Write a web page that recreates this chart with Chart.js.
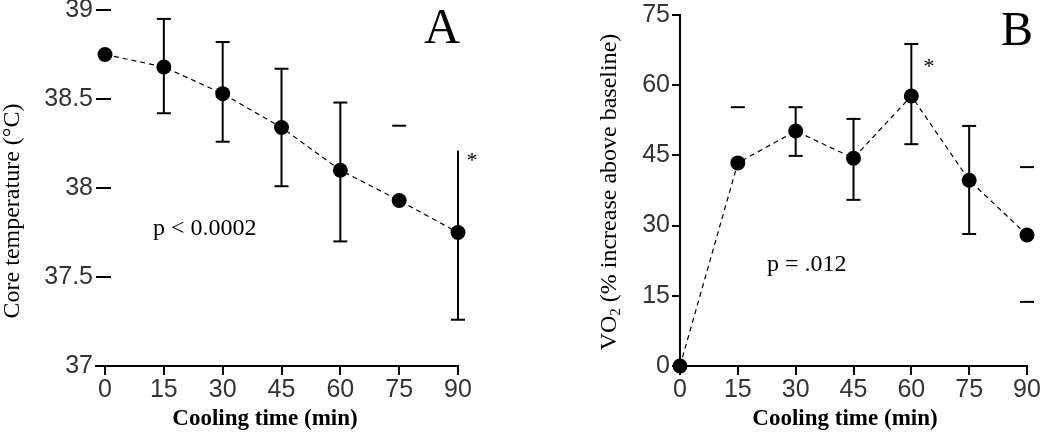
<!DOCTYPE html>
<html><head><meta charset="utf-8">
<script src="https://cdn.jsdelivr.net/npm/chart.js@4"></script>
<style>
html,body{margin:0;padding:0;background:#fff;overflow:hidden}
#a{position:absolute;left:0;top:0}
#b{position:absolute;left:520px;top:0}
</style>
</head><body>
<canvas id="a" width="520" height="432"></canvas>
<canvas id="b" width="530" height="432"></canvas>
<script>
// ---- data ----
const minutes = [0, 15, 30, 45, 60, 75, 90];
const xTickValues = [0, 15, 30, 45, 60, 75, 90];

// Panel A: core temperature (°C)
const tempMean  = [38.75, 38.68, 38.53, 38.34, 38.10, 37.93, 37.75];
const tempUpper = [null, 38.95, 38.82, 38.67, 38.48, 38.35, 38.21];
const tempLower = [null, 38.42, 38.26, 38.01, 37.70, null, 37.26];
const tempStem   = [false, true, true, true, true, false, true];
const tempCapUp  = [false, true, true, true, true, true, false];
const tempCapLow = [false, true, true, true, true, false, true];
const tempTicks = [37, 37.5, 38, 38.5, 39];

// Panel B: VO2 (% increase above baseline)
const vo2Mean  = [0, 43.4, 50.2, 44.4, 57.7, 39.7, 28.0];
const vo2Upper = [null, 55.3, 55.3, 52.8, 68.8, 51.3, 42.5];
const vo2Lower = [null, null, 44.9, 35.5, 47.4, 28.2, 13.7];
const vo2Stem   = [false, false, true, true, true, true, false];
const vo2CapUp  = [false, true, true, true, true, true, true];
const vo2CapLow = [false, false, true, true, true, true, true];
const vo2Ticks = [0, 15, 30, 45, 60, 75];

// ---- plugins ----
function makeErr(d) {
  return {
    id: 'errbars',
    beforeDatasetsDraw(chart) {
      const xs = chart.scales.x, ys = chart.scales.y, ctx = chart.ctx;
      ctx.save();
      ctx.strokeStyle = '#000'; ctx.lineWidth = 2; ctx.lineCap = 'butt';
      const hw = 7;
      d.x.forEach((xv, i) => {
        const px = xs.getPixelForValue(xv);
        const pm = ys.getPixelForValue(d.mean[i]);
        const up = d.upper[i] == null ? null : ys.getPixelForValue(d.upper[i]);
        const lo = d.lower[i] == null ? null : ys.getPixelForValue(d.lower[i]);
        if (d.stem[i]) {
          ctx.beginPath(); ctx.moveTo(px, up ?? pm); ctx.lineTo(px, lo ?? pm); ctx.stroke();
        }
        if (up != null && d.capUp[i]) {
          ctx.beginPath(); ctx.moveTo(px - hw, up); ctx.lineTo(px + hw, up); ctx.stroke();
        }
        if (lo != null && d.capLow[i]) {
          ctx.beginPath(); ctx.moveTo(px - hw, lo); ctx.lineTo(px + hw, lo); ctx.stroke();
        }
      });
      ctx.restore();
    }
  };
}
function makeText(items) {
  return {
    id: 'texts',
    afterDraw(chart) {
      const ctx = chart.ctx;
      items.forEach(t => {
        ctx.save();
        ctx.fillStyle = '#000';
        ctx.translate(t.x, t.y);
        if (t.rot) ctx.rotate(t.rot);
        ctx.textBaseline = t.base || 'alphabetic';
        if (t.parts) {
          let total = 0;
          t.parts.forEach(p => { ctx.font = p.font; total += ctx.measureText(p.text).width; });
          let cx = -total / 2;
          ctx.textAlign = 'left';
          t.parts.forEach(p => {
            ctx.font = p.font;
            ctx.fillText(p.text, cx, p.dy || 0);
            cx += ctx.measureText(p.text).width;
          });
        } else {
          ctx.font = t.font;
          ctx.textAlign = t.align || 'center';
          ctx.fillText(t.text, 0, 0);
        }
        ctx.restore();
      });
    }
  };
}

const tickFont = {family: '"Liberation Sans", Arial, sans-serif', size: 25, lineHeight: 1};
const serif = '"Liberation Serif", "Times New Roman", serif';
const plainLabel = v => String(v);

function xScale(min) {
  return {
    type: 'linear', min: min, max: 90,
    afterBuildTicks: s => { s.ticks = xTickValues.map(v => ({value: v})); },
    grid: {drawOnChartArea: false, drawTicks: true, tickLength: 9, color: '#000', lineWidth: 2},
    border: {display: true, color: '#000', width: 2},
    ticks: {font: tickFont, color: '#333', padding: 3, maxRotation: 0, autoSkip: false, callback: plainLabel},
    afterFit: s => { s.height = 66; s.paddingLeft = 0; s.paddingRight = 0; }
  };
}

function lineDataset(y) {
  return {
    data: minutes.map((m, i) => ({x: m, y: y[i]})),
    borderColor: '#000', borderWidth: 1.2, borderDash: [5, 4],
    pointRadius: 7.5, pointBackgroundColor: '#000', pointBorderColor: '#000', pointBorderWidth: 0,
    tension: 0, clip: false
  };
}

new Chart(document.getElementById('a'), {
  type: 'line',
  data: {datasets: [lineDataset(tempMean)]},
  options: {
    responsive: false, animation: false,
    layout: {padding: {left: 0, top: 10, right: 62, bottom: 0}},
    plugins: {legend: {display: false}, tooltip: {enabled: false}},
    scales: {
      x: xScale(-2.3),
      y: {
        type: 'linear', min: 37, max: 39,
        afterBuildTicks: s => { s.ticks = tempTicks.map(v => ({value: v})); },
        grid: {drawOnChartArea: false, drawTicks: true, tickLength: -15, color: '#000', lineWidth: 2},
        border: {display: false},
        ticks: {font: tickFont, color: '#333', padding: 18, callback: plainLabel},
        afterFit: s => { s.width = 96; s.paddingTop = 0; s.paddingBottom = 0; }
      }
    }
  },
  plugins: [
    makeErr({x: minutes, mean: tempMean, upper: tempUpper, lower: tempLower, stem: tempStem, capUp: tempCapUp, capLow: tempCapLow}),
    makeText([
      {text: 'A', x: 442, y: 43, font: '50px ' + serif},
      {text: 'p < 0.0002', x: 153, y: 235, font: '24px ' + serif, align: 'left'},
      {text: '*', x: 472, y: 167, font: '22px ' + serif},
      {text: 'Core temperature (°C)', x: 13, y: 211, rot: -Math.PI / 2, base: 'middle', font: '24px ' + serif},
      {text: 'Cooling time (min)', x: 265, y: 419, base: 'middle', font: 'bold 23px ' + serif}
    ])
  ]
});

new Chart(document.getElementById('b'), {
  type: 'line',
  data: {datasets: [lineDataset(vo2Mean)]},
  options: {
    responsive: false, animation: false,
    layout: {padding: {left: 0, top: 15, right: 23, bottom: 0}},
    plugins: {legend: {display: false}, tooltip: {enabled: false}},
    scales: {
      x: xScale(0),
      y: {
        type: 'linear', min: 0, max: 75,
        afterBuildTicks: s => { s.ticks = vo2Ticks.map(v => ({value: v})); },
        grid: {drawOnChartArea: false, drawTicks: true, tickLength: 8, color: '#000', lineWidth: 2},
        border: {display: true, color: '#000', width: 2},
        ticks: {font: tickFont, color: '#333', padding: 2, callback: plainLabel},
        afterFit: s => { s.width = 160; s.paddingTop = 0; s.paddingBottom = 0; }
      }
    }
  },
  plugins: [
    makeErr({x: minutes, mean: vo2Mean, upper: vo2Upper, lower: vo2Lower, stem: vo2Stem, capUp: vo2CapUp, capLow: vo2CapLow}),
    makeText([
      {text: 'B', x: 497, y: 45, font: '48px ' + serif},
      {text: 'p = .012', x: 247, y: 271, font: '24px ' + serif, align: 'left'},
      {text: '*', x: 409, y: 73, font: '22px ' + serif},
      {x: 90, y: 192, rot: -Math.PI / 2, base: 'middle', parts: [
        {text: 'VO', font: '24px ' + serif},
        {text: '2', font: '15px ' + serif, dy: 6},
        {text: ' (% increase above baseline)', font: '24px ' + serif}
      ]},
      {text: 'Cooling time (min)', x: 325, y: 419, base: 'middle', font: 'bold 23px ' + serif}
    ])
  ]
});
</script>
</body></html>
